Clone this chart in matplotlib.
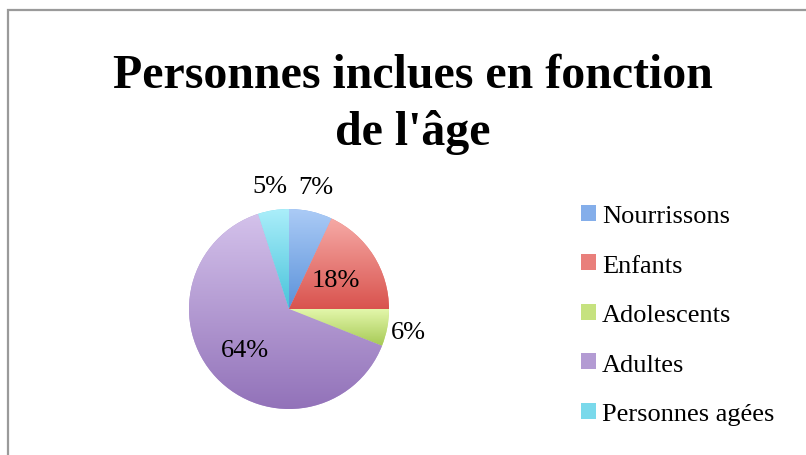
import numpy as np
import matplotlib
matplotlib.use("Agg")
import matplotlib.pyplot as plt
from matplotlib.colors import LinearSegmentedColormap
from matplotlib.patches import Patch, Rectangle

# données
categories = ["Nourrissons", "Enfants", "Adolescents", "Adultes", "Personnes agées"]
values = [7, 18, 6, 64, 5]
# dégradés (haut -> bas) façon Excel 2007
top_colors = ["#abcbf6", "#f6aaa6", "#e3f7ab", "#d4c2eb", "#abeefa"]
bottom_colors = ["#5b92da", "#d9534e", "#a6c955", "#9272b9", "#48c3da"]
mid_colors = ["#84aeea", "#e97f7b", "#c6e27f", "#b39bd3", "#7ad9eb"]
label_dist = [1.25, 0.55, 1.22, 0.6, 1.25]

FONT = "Liberation Serif"

fig = plt.figure(figsize=(8.06, 4.56), dpi=100)

# cadre gris autour du graphique
fig.patches.append(Rectangle((8 / 806, -0.1), 1.2, 1.1 - 11 / 456,
                             transform=fig.transFigure, fill=False,
                             edgecolor="#9a9a9a", linewidth=1.6))

fig.text(413 / 806, 1 - 88 / 456, "Personnes inclues en fonction",
         ha="center", va="baseline", fontsize=34.5, fontweight="bold", family=FONT)
fig.text(413 / 806, 1 - 145 / 456, "de l'âge",
         ha="center", va="baseline", fontsize=34.5, fontweight="bold", family=FONT)

ax = fig.add_axes([189 / 806, 46 / 456, 200 / 806, 200 / 456])
wedges, _ = ax.pie(values, startangle=90, counterclock=False, radius=1,
                   colors=mid_colors, wedgeprops=dict(linewidth=0))

grad = np.linspace(1, 0, 256).reshape(-1, 1)
for w, c_top, c_bot, val, d in zip(wedges, top_colors, bottom_colors, values, label_dist):
    cmap = LinearSegmentedColormap.from_list("g", [c_bot, c_top])
    ext = w.get_path().get_extents()
    im = ax.imshow(grad, cmap=cmap, aspect="auto", origin="upper",
                   extent=[ext.x0, ext.x1, ext.y0, ext.y1], zorder=2)
    im.set_clip_path(w)
    ang = np.deg2rad((w.theta1 + w.theta2) / 2)
    ax.text(d * np.cos(ang), d * np.sin(ang), f"{val}%", ha="center", va="center",
            fontsize=19, family=FONT, zorder=3)

ax.set_xlim(-1, 1)
ax.set_ylim(-1, 1)
ax.set_aspect("equal")
ax.axis("off")

handles = [Patch(facecolor=c, edgecolor="none") for c in mid_colors]
fig.legend(handles, categories, loc="center left",
           bbox_to_anchor=(581 / 806, 1 - 316 / 456), frameon=False,
           prop={"family": FONT, "size": 19}, handlelength=0.55, handleheight=0.55,
           handletextpad=0.25, labelspacing=1.03, borderpad=0, borderaxespad=0)

fig.savefig("out.png", dpi=100)
